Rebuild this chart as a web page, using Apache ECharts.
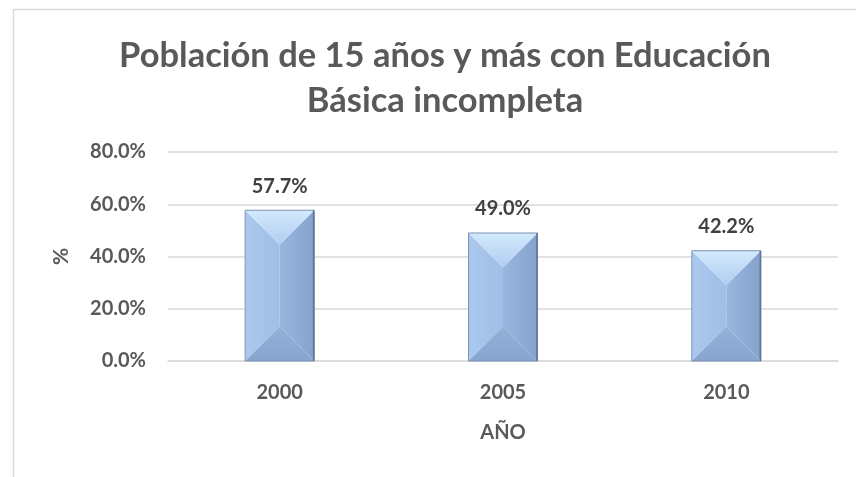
<!DOCTYPE html>
<html><head><meta charset="utf-8">
<script src="https://cdn.jsdelivr.net/npm/echarts@6/dist/echarts.min.js"></script>
<style>html,body{margin:0;padding:0;background:#fff}#c{width:856px;height:477px}</style>
</head><body><div id="c"></div>
<script>
var categories = ['2000', '2005', '2010'];
var values = [57.7, 49.0, 42.2];
var yTicks = [0, 20, 40, 60, 80];
var titleText = 'Población de 15 años y más con Educación\nBásica incompleta';
var xName = 'AÑO';
var yName = '%';

var FONT = 'Lato';
var chart = echarts.init(document.getElementById('c'));
var HALF = 34.5;
function renderBevel(params, api) {
  var idx = api.value(0), v = api.value(1);
  var top = api.coord([idx, v]);
  var bot = api.coord([idx, 0]);
  var cx = top[0], t = top[1], b = bot[1];
  var l = cx - HALF, r = cx + HALF;
  var h = b - t;
  var bev = Math.min(HALF, h / 2);
  return {
    type: 'group',
    children: [
      {type: 'polygon', shape: {points: [[l, t], [cx, t + bev], [cx, b - bev], [l, b]]},
        style: {fill: new echarts.graphic.LinearGradient(0, 0, 1, 0, [{offset: 0, color: '#abc8ee'}, {offset: 1, color: '#a0bee6'}])}},
      {type: 'polygon', shape: {points: [[r, t], [cx, t + bev], [cx, b - bev], [r, b]]},
        style: {fill: new echarts.graphic.LinearGradient(0, 0, 1, 0, [{offset: 0, color: '#98b6de'}, {offset: 1, color: '#84a2cc'}])}},
      {type: 'polygon', shape: {points: [[l, t], [r, t], [cx, t + bev]]},
        style: {fill: new echarts.graphic.LinearGradient(0, 0, 0, 1, [{offset: 0, color: '#d2eafd'}, {offset: 1, color: '#b0ccf0'}])}},
      {type: 'polygon', shape: {points: [[l, b], [r, b], [cx, b - bev]]},
        style: {fill: new echarts.graphic.LinearGradient(0, 0, 0, 1, [{offset: 0, color: '#92b0d8'}, {offset: 1, color: '#88a5cf'}])}},
      {type: 'rect', shape: {x: l, y: t, width: r - l, height: h},
        style: {fill: 'none', stroke: '#7b93b5', lineWidth: 1}},
      {type: 'line', shape: {x1: r - 0.5, y1: t, x2: r - 0.5, y2: b},
        style: {stroke: '#5d7394', lineWidth: 1.5}}
    ]
  };
}

chart.setOption({
  animation: false,
  textStyle: {fontFamily: FONT},
  title: {
    text: titleText, left: 440, top: 28, textAlign: 'center',
    textStyle: {fontFamily: FONT, fontSize: 34.5, fontWeight: 'bold', color: '#595959', lineHeight: 45}
  },
  graphic: [{type: 'rect', left: 11, top: 7, shape: {width: 900, height: 500},
    style: {fill: 'none', stroke: '#d9d9d9', lineWidth: 1.5}, silent: true}],
  grid: {left: 168, right: 18, top: 152, bottom: 116, containLabel: false},
  xAxis: {
    type: 'category', data: categories,
    name: xName, nameLocation: 'middle', nameGap: 62,
    nameTextStyle: {fontFamily: FONT, fontSize: 20, fontWeight: 'bold', color: '#595959'},
    axisLine: {lineStyle: {color: '#d9d9d9', width: 1.5}},
    axisTick: {show: false},
    axisLabel: {margin: 22, fontFamily: FONT, fontSize: 20, fontWeight: 'bold', color: '#595959'}
  },
  yAxis: {
    type: 'value', min: yTicks[0], max: yTicks[yTicks.length - 1], interval: yTicks[1] - yTicks[0],
    name: yName, nameLocation: 'middle', nameGap: 96, nameRotate: 90,
    nameTextStyle: {fontFamily: FONT, fontSize: 21, fontWeight: 'bold', color: '#595959'},
    axisLine: {show: false}, axisTick: {show: false},
    splitLine: {lineStyle: {color: '#d9d9d9', width: 1.5}},
    axisLabel: {margin: 22, fontFamily: FONT, fontSize: 20, fontWeight: 'bold', color: '#595959',
      formatter: function (v) { return v.toFixed(1) + '%'; }}
  },
  series: [
    {
      type: 'custom', renderItem: renderBevel,
      data: values.map(function (v, i) { return [i, v]; }), z: 3
    },
    {
      type: 'bar', data: values, barWidth: 69,
      itemStyle: {color: 'rgba(0,0,0,0)'},
      label: {show: true, position: 'top', distance: 14, fontFamily: FONT, fontSize: 20, fontWeight: 'bold', color: '#404040',
        formatter: function (p) { return p.value.toFixed(1) + '%'; }}, z: 4
    }
  ]
});
</script></body></html>
